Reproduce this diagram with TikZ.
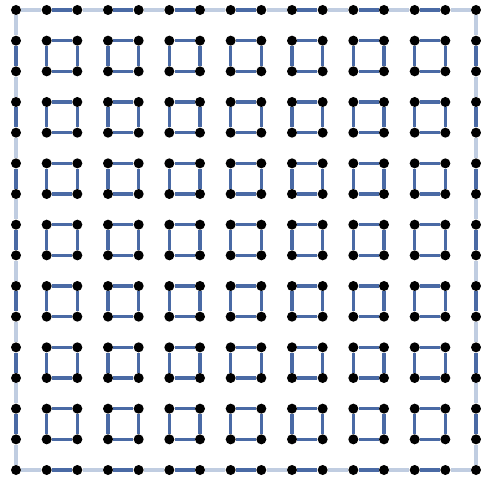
\documentclass[tikz,border=0pt]{standalone}
\definecolor{edgedark}{RGB}{74,106,165}
\definecolor{edgelight}{RGB}{192,205,225}

\begin{document}
\begin{tikzpicture}[x=1pt, y=-1pt,
  vtx/.style={circle, fill=black, inner sep=0pt, minimum size=10pt},
  edark/.style={draw=edgedark, line width=3.2pt},
  elight/.style={draw=edgelight, line width=3.2pt}
]
  \useasboundingbox (0,0) rectangle (481,476);

  %% grid of vertices
  \foreach \i in {0,...,15}
    \foreach \j in {0,...,15}
      \node[vtx] (p-\i-\j) at ({16+\i*460/15},{10+\j*460/15}) {};

  %% inner squares
  \foreach \a in {1,3,...,13}
    \foreach \b in {1,3,...,13} {
      \pgfmathtruncatemacro\c{\a+1}
      \pgfmathtruncatemacro\d{\b+1}
      \draw[edark] (p-\a-\b) -- (p-\c-\b);
      \draw[edark] (p-\c-\b) -- (p-\c-\d);
      \draw[edark] (p-\c-\d) -- (p-\a-\d);
      \draw[edark] (p-\a-\d) -- (p-\a-\b);
    }

  %% outer ring, dark links
  \foreach \a in {1,3,...,13} {
    \pgfmathtruncatemacro\c{\a+1}
    \draw[edark] (p-\a-0) -- (p-\c-0);
    \draw[edark] (p-\a-15) -- (p-\c-15);
    \draw[edark] (p-0-\a) -- (p-0-\c);
    \draw[edark] (p-15-\a) -- (p-15-\c);
  }

  %% outer ring, light links
  \foreach \a in {0,2,...,14} {
    \pgfmathtruncatemacro\c{\a+1}
    \draw[elight] (p-\a-0) -- (p-\c-0);
    \draw[elight] (p-\a-15) -- (p-\c-15);
    \draw[elight] (p-0-\a) -- (p-0-\c);
    \draw[elight] (p-15-\a) -- (p-15-\c);
  }
\end{tikzpicture}
\end{document}
